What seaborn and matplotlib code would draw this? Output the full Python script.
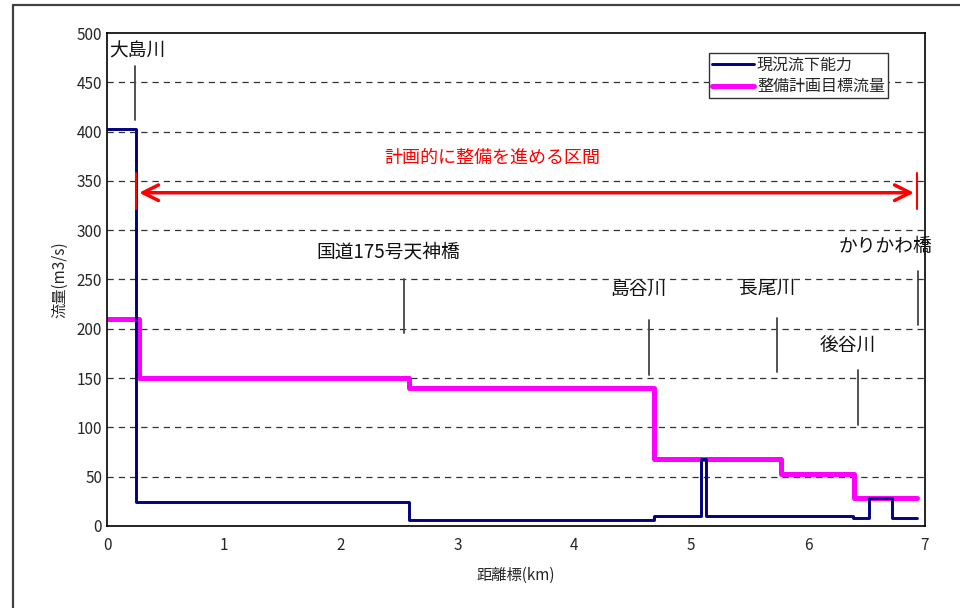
import numpy as np
import pandas as pd
import seaborn as sns
import matplotlib
matplotlib.use("Agg")
import matplotlib.pyplot as plt
from matplotlib.lines import Line2D

# step data (distance km, flow m3/s) - steps-post
current_x = [0, 0.25, 2.58, 4.68, 5.08, 5.125, 6.38, 6.52, 6.72, 6.93]
current_y = [403, 24, 6, 10, 68, 10, 8, 28, 8, 8]
target_x = [0, 0.27, 2.58, 4.68, 5.77, 6.39, 6.93]
target_y = [210, 150, 140, 68, 53, 28, 28]

series_names = ["現況流下能力", "整備計画目標流量"]

# landmarks: label, x of marker line, line bottom, line top, label x, label y
landmark_names = ["大島川", "国道175号天神橋", "島谷川", "長尾川", "後谷川", "かりかわ橋"]
landmark_x = [0.24, 2.54, 4.64, 5.73, 6.43, 6.94]
landmark_lo = [412, 196, 153, 156, 102, 204]
landmark_hi = [467, 251, 209, 211, 158, 259]
label_x = [0.26, 2.41, 4.55, 5.65, 6.34, 6.66]
label_y = [482, 278, 240, 241, 182, 283]

section_start, section_end, section_y = 0.25, 6.93, 338
section_label = "計画的に整備を進める区間"

sns.set_style("white")
plt.rcParams['font.family'] = ['Noto Sans CJK JP', 'DejaVu Sans']

df_cur = pd.DataFrame({"x": current_x, "y": current_y})
df_tgt = pd.DataFrame({"x": target_x, "y": target_y})

fig = plt.figure(figsize=(9.6, 6.08), dpi=100)
ax = fig.add_axes([0.1115, 0.1349, 0.852, 0.8108])

sns.lineplot(data=df_cur, x="x", y="y", ax=ax, color="#000080", lw=2.1,
             drawstyle="steps-post", estimator=None, label=series_names[0], zorder=3)
sns.lineplot(data=df_tgt, x="x", y="y", ax=ax, color="#FF00FF", lw=3.6,
             drawstyle="steps-post", estimator=None, label=series_names[1], zorder=2)

ax.set_xlim(0, 7)
ax.set_ylim(0, 500)
ax.set_xticks(range(0, 8))
ax.set_yticks(range(0, 501, 50))
for v in range(50, 500, 50):
    ax.axhline(v, color="black", lw=0.9, ls=(0, (5, 4)), alpha=0.8, zorder=1)
ax.tick_params(direction="in", length=4, labelsize=11, color="#444444")
ax.tick_params(axis="x", pad=8)
for s in ax.spines.values():
    s.set_color("black")
    s.set_linewidth(1.2)

ax.set_xlabel("距離標(km)", fontsize=11, labelpad=9)
ax.set_ylabel("流量(m3/s)", fontsize=11, labelpad=6)

# landmark labels and marker lines
for name, lx, lo, hi, tx, ty in zip(landmark_names, landmark_x, landmark_lo, landmark_hi, label_x, label_y):
    ax.plot([lx, lx], [lo, hi], color="#444444", lw=1.3, zorder=4)
    ax.text(tx, ty, name, fontsize=13.5, ha="center", va="center", color="#111111")

# planned section arrow
ax.annotate("", xy=(section_start, section_y), xytext=(section_end, section_y),
            arrowprops=dict(arrowstyle="<->", color="red", lw=2.5, mutation_scale=28))
for sx in [section_start, section_end]:
    ax.plot([sx, sx], [322, 358], color="red", lw=1.5, zorder=4)
ax.text(3.3, 373, section_label, color="red", fontsize=13, ha="center", va="center")

leg = ax.legend(loc="upper right", bbox_to_anchor=(0.955, 0.959), fontsize=11.5,
                frameon=True, fancybox=False, edgecolor="#333333", framealpha=1,
                handlelength=2.6, borderpad=0.2, labelspacing=0.3, handletextpad=0.2,
                borderaxespad=0)
leg.get_frame().set_linewidth(1.0)

# outer chart-area border (left and top visible)
fig.add_artist(Line2D([0.0135, 0.0135], [0, 0.9918], color="#404040", lw=1.6))
fig.add_artist(Line2D([0.0135, 1.0], [0.9918, 0.9918], color="#404040", lw=1.6))

fig.savefig("out.png", dpi=100)
